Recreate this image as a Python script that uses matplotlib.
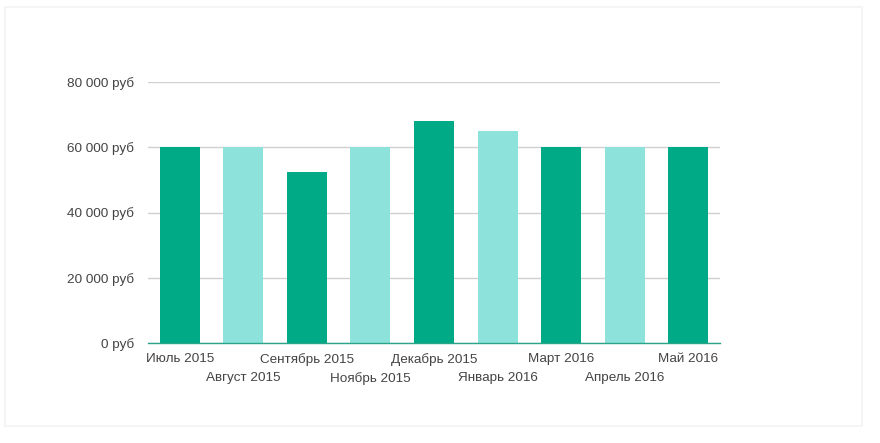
import matplotlib.pyplot as plt
from matplotlib.patches import Rectangle

plt.rcParams['font.family'] = ['Liberation Sans', 'DejaVu Sans']

months = ['Июль 2015', 'Август 2015', 'Сентябрь 2015', 'Ноябрь 2015',
          'Декабрь 2015', 'Январь 2016', 'Март 2016', 'Апрель 2016', 'Май 2016']
values = [60000, 60000, 52500, 60000, 68000, 65000, 60000, 60000, 60000]
yticks = [0, 20000, 40000, 60000, 80000]

dark = '#00aa86'
light = '#8de3db'
colors = [dark if i % 2 == 0 else light for i in range(len(values))]

fig = plt.figure(figsize=(8.8, 4.43), dpi=100)
fig.patch.set_facecolor('white')
# faint card outline
card = Rectangle((5 / 880, 1 - 426 / 443), 857 / 880, 419 / 443,
                 transform=fig.transFigure, facecolor='white',
                 edgecolor='#f5f5f5', lw=1.5, zorder=-5)
fig.patches.append(card)

ax = fig.add_axes([148 / 880, 1 - 343 / 443, 572 / 880, 261 / 443])
ax.set_facecolor('none')
x = list(range(len(values)))
ax.bar(x, values, width=0.63, color=colors, zorder=2)
ax.set_xlim(-0.5, len(values) - 0.5)
ax.set_ylim(0, 80000)

ax.set_yticks(yticks)
ax.set_yticklabels([f'{v:,}'.replace(',', ' ') + ' руб' for v in yticks])
ax.yaxis.grid(True, color='#d0d0d0', lw=1, zorder=0)
ax.set_axisbelow(True)
ax.tick_params(axis='y', length=0, pad=10, labelsize=9.7, labelcolor='#444444')

ax.set_xticks(x)
ax.set_xticklabels(months)
ax.tick_params(axis='x', length=0, pad=7, labelsize=9.7, labelcolor='#444444')
for i, t in enumerate(ax.get_xticklabels()):
    if i % 2 == 1:
        t.set_y(-0.073)

for s in ['top', 'right', 'left']:
    ax.spines[s].set_visible(False)
ax.spines['bottom'].set_color('#2aa58a')
ax.spines['bottom'].set_linewidth(1)
ax.spines['bottom'].set_zorder(3)

fig.savefig('out.png', dpi=100, facecolor=fig.get_facecolor())
